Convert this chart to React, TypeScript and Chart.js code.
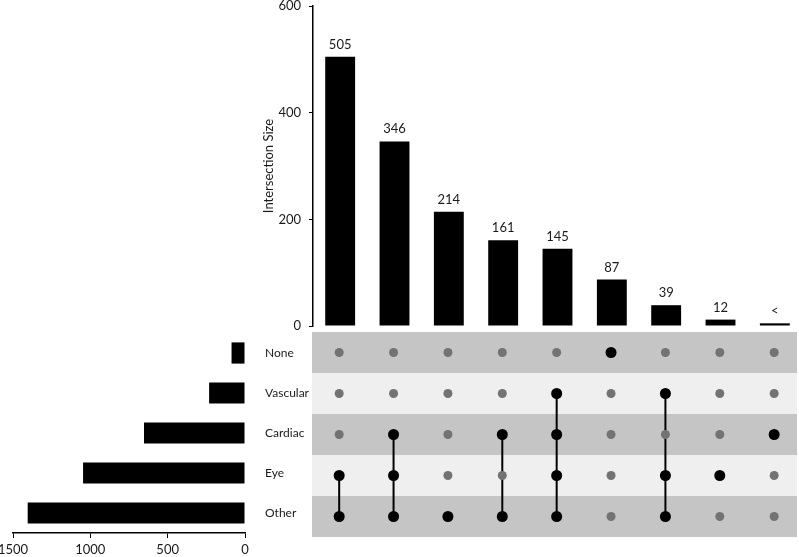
import React, { useEffect, useRef } from "react";
import { Chart, registerables } from "chart.js";

Chart.register(...registerables);

// ---- data ----
const setNames = ["None", "Vascular", "Cardiac", "Eye", "Other"];
const setSizes = [87, 232, 653, 1047, 1405];
const intersectionSizes = [505, 346, 214, 161, 145, 87, 39, 12, 5];
const intersectionLabels = ["505", "346", "214", "161", "145", "87", "39", "12", "<"];
const intersectionSets: string[][] = [
  ["Eye", "Other"],
  ["Cardiac", "Eye", "Other"],
  ["Other"],
  ["Cardiac", "Other"],
  ["Vascular", "Cardiac", "Eye", "Other"],
  ["None"],
  ["Vascular", "Eye", "Other"],
  ["Eye"],
  ["Cardiac"],
];
const topTicks = [0, 200, 400, 600];
const leftTicks = [0, 500, 1000, 1500];

const FONT = "Lato, 'Open Sans', sans-serif";
const TEXT = "#1a1a1a";
const DARK_STRIPE = "#c5c5c5";
const LIGHT_STRIPE = "#efefef";
const INACTIVE = "#737373";

export default function App() {
  const topRef = useRef<HTMLCanvasElement>(null);
  const matRef = useRef<HTMLCanvasElement>(null);
  const leftRef = useRef<HTMLCanvasElement>(null);

  useEffect(() => {
    const charts: Chart[] = [];

    const valueLabels = {
      id: "valueLabels",
      afterDatasetsDraw(chart: any) {
        const ctx = chart.ctx;
        const meta = chart.getDatasetMeta(0);
        ctx.save();
        ctx.font = `13px ${FONT}`;
        ctx.fillStyle = TEXT;
        ctx.textAlign = "center";
        ctx.textBaseline = "alphabetic";
        meta.data.forEach((el: any, i: number) => {
          ctx.fillText(intersectionLabels[i], el.x, el.y - 8);
        });
        ctx.restore();
      },
    };

    charts.push(
      new Chart(topRef.current!, {
        type: "bar",
        data: {
          labels: intersectionLabels.map((_, i) => String(i)),
          datasets: [
            {
              data: intersectionSizes,
              backgroundColor: "#000",
              barPercentage: 0.55,
              categoryPercentage: 1,
            },
          ],
        },
        options: {
          responsive: false,
          animation: false,
          layout: { padding: { top: 20, bottom: 20, left: 0, right: 1 } },
          plugins: { legend: { display: false }, tooltip: { enabled: false } },
          scales: {
            x: { display: false, offset: true },
            y: {
              min: 0,
              max: 600,
              afterFit: (s: any) => {
                s.width = 63;
              },
              afterBuildTicks: (s: any) => {
                s.ticks = topTicks.map((v) => ({ value: v }));
              },
              grid: { display: true, drawOnChartArea: false, drawTicks: true, tickLength: 4, color: "#000" },
              border: { display: true, color: "#000", width: 1.5 },
              ticks: { padding: 8, color: TEXT, font: { family: FONT, size: 13 } },
              title: {
                display: true,
                text: "Intersection Size",
                color: TEXT,
                font: { family: FONT, size: 13 },
                padding: { top: 11, bottom: 0 },
              },
            },
          },
        },
        plugins: [valueLabels],
      } as any)
    );

    const stripes = {
      id: "stripes",
      beforeDatasetsDraw(chart: any) {
        const ctx = chart.ctx;
        const { left, right } = chart.chartArea;
        const ys = chart.scales.y;
        ctx.save();
        setNames.forEach((_, r) => {
          const y0 = ys.getPixelForValue(r - 0.5);
          const y1 = ys.getPixelForValue(r + 0.5);
          ctx.fillStyle = r % 2 === 0 ? DARK_STRIPE : LIGHT_STRIPE;
          ctx.fillRect(left, Math.min(y0, y1), right - left, Math.abs(y1 - y0));
        });
        ctx.restore();
      },
    };

    const inactive: { x: number; y: number }[] = [];
    const activeSets: any[] = [];
    intersectionSets.forEach((sets, c) => {
      const pts: { x: number; y: number }[] = [];
      setNames.forEach((name, r) => {
        if (sets.includes(name)) pts.push({ x: c, y: r });
        else inactive.push({ x: c, y: r });
      });
      activeSets.push({
        data: pts,
        showLine: true,
        borderColor: "#000",
        borderWidth: 2,
        pointRadius: 5.5,
        pointBackgroundColor: "#000",
        pointBorderWidth: 0,
      });
    });

    charts.push(
      new Chart(matRef.current!, {
        type: "scatter",
        data: {
          datasets: [
            {
              data: inactive,
              pointRadius: 4.5,
              pointBackgroundColor: INACTIVE,
              pointBorderWidth: 0,
              showLine: false,
            },
            ...activeSets,
          ],
        },
        options: {
          responsive: false,
          animation: false,
          layout: { padding: 0, autoPadding: false },
          plugins: { legend: { display: false }, tooltip: { enabled: false } },
          scales: {
            x: { type: "linear", display: false, min: -0.5, max: 8.42 },
            y: { type: "linear", display: false, min: -0.5, max: setNames.length - 0.5, reverse: true },
          },
        },
        plugins: [stripes],
      } as any)
    );

    charts.push(
      new Chart(leftRef.current!, {
        type: "bar",
        data: {
          labels: setNames,
          datasets: [
            {
              data: setSizes,
              backgroundColor: "#000",
              barPercentage: 0.53,
              categoryPercentage: 1,
            },
          ],
        },
        options: {
          indexAxis: "y",
          responsive: false,
          animation: false,
          layout: { padding: { top: 20, bottom: 0, left: 13, right: 0 } },
          plugins: { legend: { display: false }, tooltip: { enabled: false } },
          scales: {
            x: {
              min: 0,
              max: 1500,
              reverse: true,
              afterFit: (s: any) => {
                s.height = 24;
              },
              afterBuildTicks: (s: any) => {
                s.ticks = leftTicks.map((v) => ({ value: v }));
              },
              grid: { display: true, drawOnChartArea: false, drawTicks: true, tickLength: 5, color: "#000" },
              border: { display: true, color: "#000", width: 1.5 },
              ticks: {
                padding: 4,
                color: TEXT,
                font: { family: FONT, size: 13 },
                maxRotation: 0,
                callback: (v: any) => String(v),
              },
            },
            y: {
              position: "right",
              afterFit: (s: any) => {
                s.width = 67;
              },
              grid: { display: false },
              border: { display: false },
              ticks: { padding: 12, color: TEXT, font: { family: FONT, size: 12 } },
            },
          },
        },
      } as any)
    );

    return () => charts.forEach((c) => c.destroy());
  }, []);

  return (
    <div style={{ position: "fixed", left: 0, top: 0, width: 799, height: 557, background: "#fff", overflow: "hidden" }}>
      <canvas ref={topRef} width={553} height={360} style={{ position: "absolute", left: 250, top: -14, width: 553, height: 360 }} />
      <canvas ref={matRef} width={485} height={205} style={{ position: "absolute", left: 312, top: 332, width: 485, height: 205 }} />
      <canvas ref={leftRef} width={312} height={244} style={{ position: "absolute", left: 0, top: 313, width: 312, height: 244 }} />
    </div>
  );
}
